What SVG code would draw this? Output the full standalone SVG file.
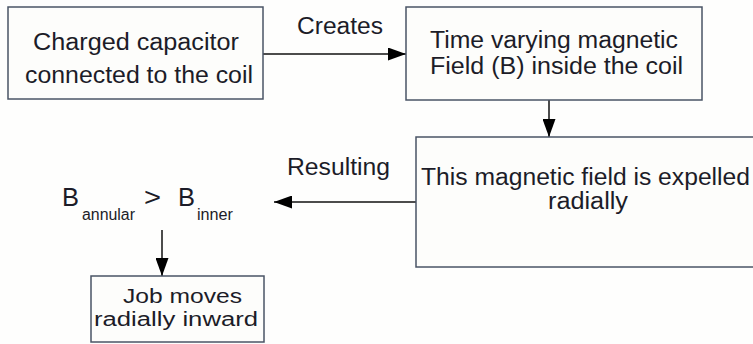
<svg xmlns="http://www.w3.org/2000/svg" width="753" height="344" viewBox="0 0 753 344">
  <style>
    .box { fill: #fdfdfb; stroke: #4a5466; stroke-width: 1.5; }
    .txt { font-family: "Liberation Sans", Arial, sans-serif; fill: #1c1c28; }
    .edge { stroke: #111; stroke-width: 1.5; fill: none; marker-end: url(#head); }
  </style>
  <defs>
    <marker id="head" viewBox="0 0 18 13" markerWidth="18" markerHeight="13" refX="18" refY="6.5" orient="auto" markerUnits="userSpaceOnUse">
      <polygon points="0,0 18,6.5 0,13" fill="#000"/>
    </marker>
  </defs>
  <rect width="753" height="344" fill="#fefefd"/>

  <g id="connectors">
    <line class="edge" x1="263" y1="54" x2="406" y2="54"/>
    <line class="edge" x1="549" y1="100" x2="549" y2="137"/>
    <line class="edge" x1="416" y1="202" x2="274" y2="202"/>
    <line class="edge" x1="162" y1="230" x2="162" y2="276"/>
    <text class="txt" x="297" y="34" font-size="23" textLength="86" lengthAdjust="spacingAndGlyphs">Creates</text>
    <text class="txt" x="287" y="175" font-size="23" textLength="103" lengthAdjust="spacingAndGlyphs">Resulting</text>
  </g>

  <g id="capacitor">
    <rect class="box" x="8" y="7" width="255" height="92"/>
    <text class="txt" x="33" y="50" font-size="23" textLength="206" lengthAdjust="spacingAndGlyphs">Charged capacitor</text>
    <text class="txt" x="25" y="83" font-size="23" textLength="228" lengthAdjust="spacingAndGlyphs">connected to the coil</text>
  </g>

  <g id="field">
    <rect class="box" x="406" y="7" width="296" height="93"/>
    <text class="txt" x="430" y="48" font-size="23" textLength="248" lengthAdjust="spacingAndGlyphs">Time varying magnetic</text>
    <text class="txt" x="430" y="74" font-size="23" textLength="253" lengthAdjust="spacingAndGlyphs">Field (B) inside the coil</text>
  </g>

  <g id="expelled">
    <rect class="box" x="416" y="137" width="340" height="130"/>
    <text class="txt" x="421" y="185" font-size="23" textLength="329" lengthAdjust="spacingAndGlyphs">This magnetic field is expelled</text>
    <text class="txt" x="548" y="209" font-size="23" textLength="80" lengthAdjust="spacingAndGlyphs">radially</text>
  </g>

  <g id="comparison">
    <text class="txt" x="62" y="206" font-size="25" textLength="17" lengthAdjust="spacingAndGlyphs">B</text>
    <text class="txt" x="82" y="220" font-size="16" textLength="53" lengthAdjust="spacingAndGlyphs">annular</text>
    <text class="txt" x="144" y="206" font-size="25" textLength="17" lengthAdjust="spacingAndGlyphs">&gt;</text>
    <text class="txt" x="178" y="206" font-size="25" textLength="17" lengthAdjust="spacingAndGlyphs">B</text>
    <text class="txt" x="197" y="220" font-size="16" textLength="36" lengthAdjust="spacingAndGlyphs">inner</text>
  </g>

  <g id="job">
    <rect class="box" x="91" y="276" width="173" height="66"/>
    <text class="txt" x="123" y="303" font-size="20" textLength="119" lengthAdjust="spacingAndGlyphs">Job moves</text>
    <text class="txt" x="94" y="326" font-size="20" textLength="164" lengthAdjust="spacingAndGlyphs">radially inward</text>
  </g>
</svg>
